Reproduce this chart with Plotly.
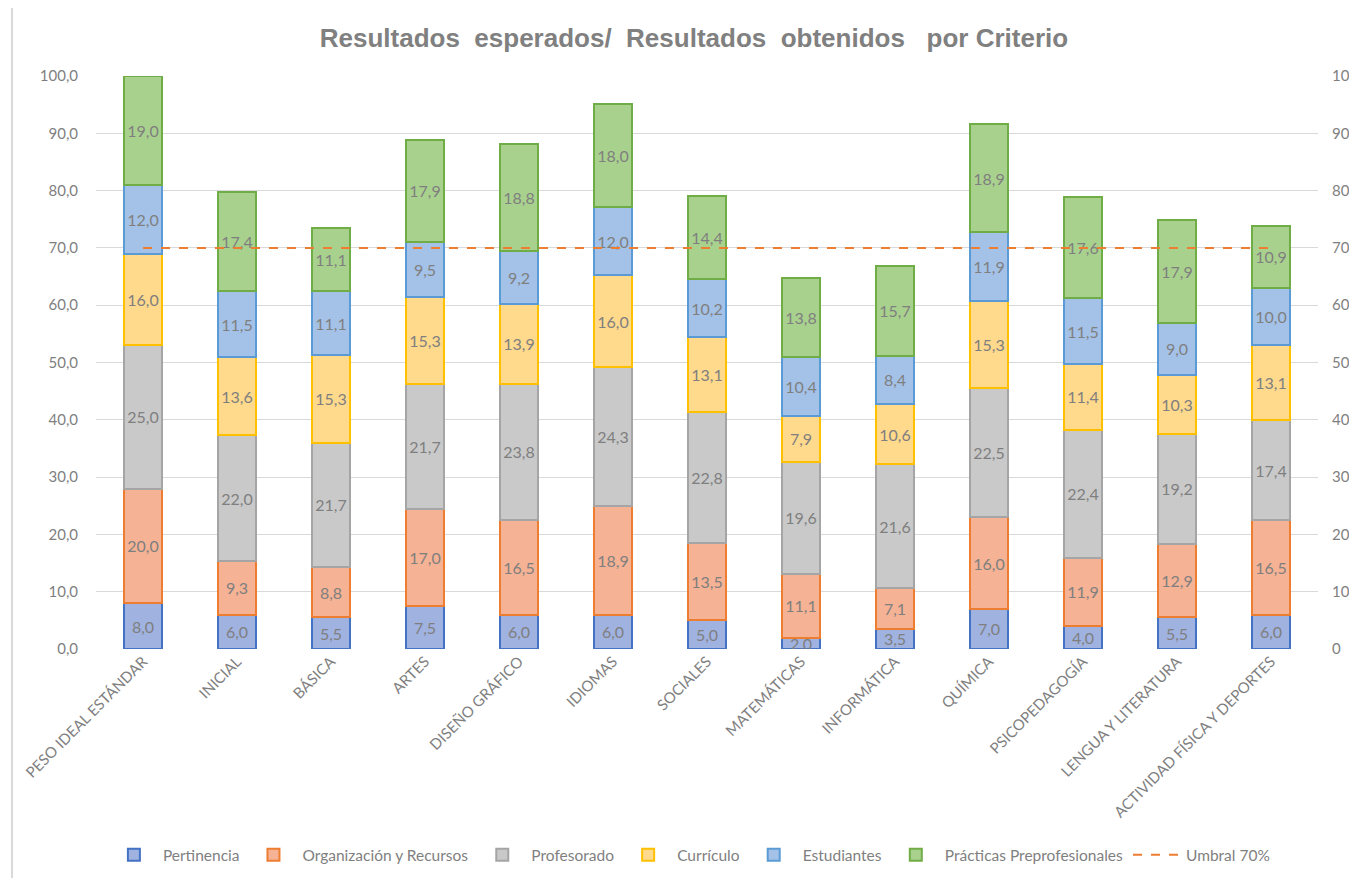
import plotly.graph_objects as go

categories = ["PESO IDEAL ESTÁNDAR", "INICIAL", "BÁSICA", "ARTES", "DISEÑO GRÁFICO",
              "IDIOMAS", "SOCIALES", "MATEMÁTICAS", "INFORMÁTICA", "QUÍMICA",
              "PSICOPEDAGOGÍA", "LENGUA Y LITERATURA", "ACTIVIDAD FÍSICA Y DEPORTES"]

pertinencia = [8.0, 6.0, 5.5, 7.5, 6.0, 6.0, 5.0, 2.0, 3.5, 7.0, 4.0, 5.5, 6.0]
organizacion = [20.0, 9.3, 8.8, 17.0, 16.5, 18.9, 13.5, 11.1, 7.1, 16.0, 11.9, 12.9, 16.5]
profesorado = [25.0, 22.0, 21.7, 21.7, 23.8, 24.3, 22.8, 19.6, 21.6, 22.5, 22.4, 19.2, 17.4]
curriculo = [16.0, 13.6, 15.3, 15.3, 13.9, 16.0, 13.1, 7.9, 10.6, 15.3, 11.4, 10.3, 13.1]
estudiantes = [12.0, 11.5, 11.1, 9.5, 9.2, 12.0, 10.2, 10.4, 8.4, 11.9, 11.5, 9.0, 10.0]
practicas = [19.0, 17.4, 11.1, 17.9, 18.8, 18.0, 14.4, 13.8, 15.7, 18.9, 17.6, 17.9, 10.9]
umbral = [70] * len(categories)

series = [
    ("Pertinencia", pertinencia, "#A0B2E0", "#4472C4"),
    ("Organización y Recursos", organizacion, "#F5B294", "#ED7D31"),
    ("Profesorado", profesorado, "#C9C9C9", "#A5A5A5"),
    ("Currículo", curriculo, "#FFD98C", "#FFC000"),
    ("Estudiantes", estudiantes, "#A4C2E8", "#5B9BD5"),
    ("Prácticas Preprofesionales", practicas, "#A9D18E", "#70AD47"),
]

FONT = "Lato, Noto Sans, sans-serif"
GRAY = "#7F7F7F"

fig = go.Figure()
for name, vals, fill, line in series:
    fig.add_trace(go.Bar(
        name=name, x=categories, y=vals,
        marker=dict(color=fill, line=dict(color=line, width=2)),
        texttemplate="%{y:.1f}", textposition="inside", insidetextanchor="middle",
        textfont=dict(color=GRAY, size=16, family=FONT),
        textangle=0,
    ))

fig.add_trace(go.Scatter(
    name="Umbral 70%", x=categories, y=umbral, mode="lines", yaxis="y2",
    line=dict(color="#ED7D31", width=2, dash="dash"),
))

nb = "\u00a0"
title = f"Resultados{nb} esperados/{nb} Resultados{nb} obtenidos{nb}{nb} por Criterio"

fig.update_layout(
    width=1349, height=870,
    barmode="stack", bargap=0.6,
    separators=",.",
    paper_bgcolor="white", plot_bgcolor="white",
    font=dict(family=FONT, color=GRAY, size=15),
    margin=dict(l=88, r=39, t=68, b=229, autoexpand=False),
    title=dict(text=f"<b>{title}</b>", x=0.5085, xanchor="center", y=0.9655, yanchor="middle",
               font=dict(size=26, color="#808080", family="Liberation Sans, Arial, sans-serif")),
    uniformtext=dict(minsize=16, mode="show"),
    xaxis=dict(tickangle=-45, tickfont=dict(size=15, color=GRAY), showgrid=False,
               showline=False, ticks="", automargin=False),
    yaxis=dict(range=[0, 100], dtick=10, tickformat=".1f", gridcolor="#D9D9D9", gridwidth=1,
               zeroline=False, showline=False, tickfont=dict(size=15, color=GRAY),
               ticks="outside", ticklen=14, tickcolor="rgba(0,0,0,0)", automargin=False),
    yaxis2=dict(range=[0, 100], dtick=10, tickformat="d", overlaying="y", side="right",
                showgrid=False, zeroline=False, showline=False,
                tickfont=dict(size=15, color=GRAY), automargin=False,
                ticks="outside", ticklen=10, tickcolor="rgba(0,0,0,0)"),
    legend=dict(orientation="h", x=0.486, xanchor="center", y=-0.36, yanchor="middle",
                font=dict(size=15.5, color=GRAY), traceorder="normal", itemwidth=48),
    shapes=[dict(type="rect", xref="paper", yref="paper", x0=-0.0687, x1=1.2, y0=-0.6, y1=1.1204,
                 line=dict(color="#D9D9D9", width=2), fillcolor="rgba(0,0,0,0)", layer="below")],
)

fig.write_html("out.html")
